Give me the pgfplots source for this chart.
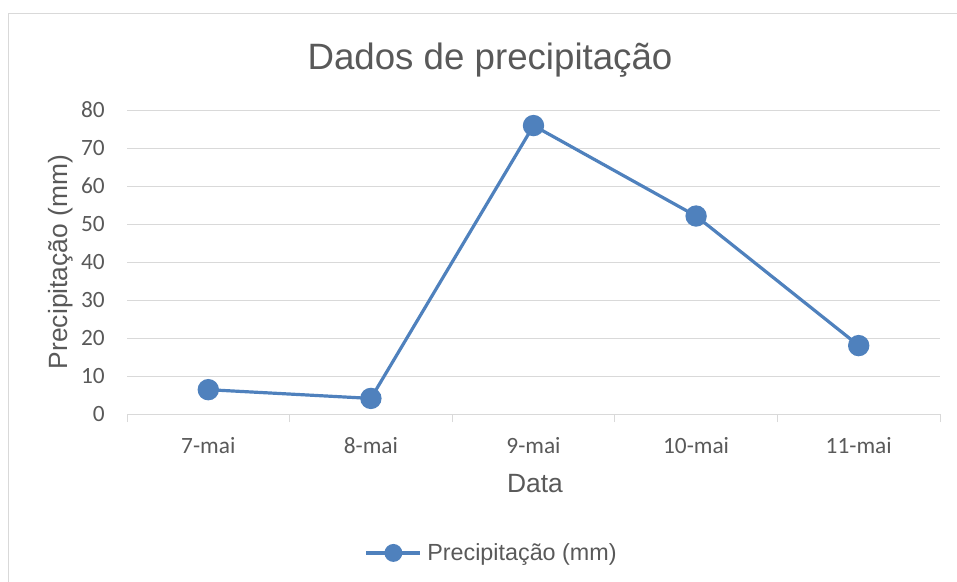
\documentclass[border=0pt]{standalone}
\usepackage{pgfplots}
\pgfplotsset{compat=1.18}
\usepackage{fontspec}
\setmainfont{Liberation Sans}
\newfontfamily\carlito{Carlito}
\definecolor{serie}{HTML}{4F81BD}
\definecolor{txt}{HTML}{595959}
\definecolor{grd}{HTML}{D9D9D9}
\begin{document}
\begin{tikzpicture}
\useasboundingbox (0,0) rectangle (717.75pt,436.5pt);
\draw[grd, line width=0.75pt] (6.4pt,0pt) -- (6.4pt,426pt) -- (717.75pt,426pt);
\begin{axis}[
  at={(95.25pt,126pt)}, anchor=south west,
  scale only axis, width=609.75pt, height=228pt,
  xmin=-0.5, xmax=4.5, ymin=0, ymax=80,
  ytick={0,10,...,80},
  xtick={0,1,2,3,4},
  xticklabels={7-mai,8-mai,9-mai,10-mai,11-mai},
  xtick pos=lower, ytick pos=left,
  major tick length=0pt,
  extra x ticks={-0.5,0.5,1.5,2.5,3.5,4.5},
  extra x tick labels={},
  extra x tick style={major tick length=6pt, tick align=outside, xtick pos=lower, tick style={grd, line width=0.75pt}, grid=none},
  axis line style={draw=none},
  ymajorgrids, grid style={grd, line width=0.75pt},
  /pgf/number format/assume math mode=true,
  yticklabel style={font=\carlito\fontsize{17.5pt}{20pt}\selectfont, text=txt, anchor=east, inner sep=0pt, xshift=-16.5pt},
  xticklabel style={font=\carlito\fontsize{17.5pt}{20pt}\selectfont, text=txt, anchor=base, inner sep=0pt, yshift=-29.25pt},
  legend style={at={(0.449,-0.457)}, anchor=center, draw=none, fill=none,
    font=\fontsize{17.5pt}{20pt}\selectfont, text=txt, inner sep=0pt,
    /tikz/every even column/.append style={column sep=0pt}},
  legend cell align=left,
  legend image code/.code={\draw[#1, mark size=5.5pt, mark repeat=2, mark phase=2] plot coordinates {(0pt,0pt) (20.25pt,0pt) (40.5pt,0pt)};},
  clip=false,
]
\draw[grd, line width=0.75pt] (axis cs:-0.5,0) -- (axis cs:4.5,0);
\addplot[color=serie, line width=2.4pt, mark=*, mark size=6.8pt, mark options={solid, fill=serie, draw=none}]
  coordinates {(0,6.4) (1,4.1) (2,75.9) (3,52.1) (4,18.0)};
\addlegendentry{\hspace{2pt}Precipitação (mm)}
\end{axis}
\node[anchor=base, text=txt, font=\fontsize{27.5pt}{30pt}\selectfont] at (367.5pt,384pt) {Dados de precipitação};
\node[anchor=base, rotate=90, text=txt, font=\fontsize{19.8pt}{22pt}\selectfont] at (50.25pt,240pt) {Precipitação (mm)};
\node[anchor=base, text=txt, font=\fontsize{19.8pt}{22pt}\selectfont] at (401.25pt,66.75pt) {Data};
\end{tikzpicture}
\end{document}
